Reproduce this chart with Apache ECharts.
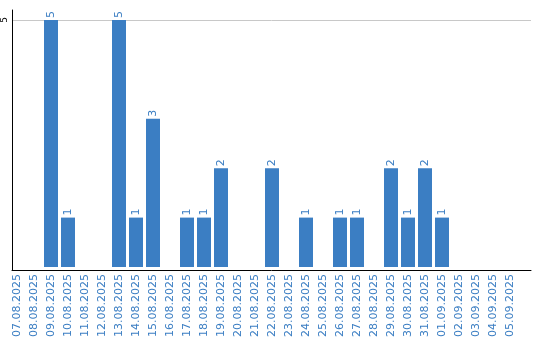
<!DOCTYPE html>
<html>
<head>
<meta charset="utf-8">
<script src="https://cdn.jsdelivr.net/npm/echarts@6/dist/echarts.min.js"></script>
<style>html,body{margin:0;padding:0;background:#fff}#c{width:540px;height:340px}</style>
</head>
<body>
<div id="c"></div>
<script>
const categories = ['07.08.2025','08.08.2025','09.08.2025','10.08.2025','11.08.2025','12.08.2025','13.08.2025','14.08.2025','15.08.2025','16.08.2025','17.08.2025','18.08.2025','19.08.2025','20.08.2025','21.08.2025','22.08.2025','23.08.2025','24.08.2025','25.08.2025','26.08.2025','27.08.2025','28.08.2025','29.08.2025','30.08.2025','31.08.2025','01.09.2025','02.09.2025','03.09.2025','04.09.2025','05.09.2025'];
const values = [0,0,5,1,0,0,5,1,3,0,1,1,2,0,0,2,0,1,0,1,1,0,2,1,2,1,0,0,0,0];
const yTickLabels = ['5'];

const blue = '#3b7ec3';
const chart = echarts.init(document.getElementById('c'), null, {renderer: 'canvas'});
chart.setOption({
  animation: false,
  backgroundColor: '#fff',
  grid: [
    {left: 10, right: 9, top: 10, bottom: 70, containLabel: false},
    {left: 8.5, width: 510, top: 10, bottom: 70, containLabel: false}
  ],
  xAxis: [
    {gridIndex: 0, type: 'value', min: 0, max: 1,
     axisLine: {show: true, lineStyle: {color: '#000', width: 1}},
     axisTick: {show: false}, axisLabel: {show: false}, splitLine: {show: false}},
    {gridIndex: 1, type: 'category', data: categories, boundaryGap: true,
     axisLine: {show: false}, axisTick: {show: false},
     axisLabel: {rotate: 90, interval: 0, fontSize: 11, fontFamily: 'DejaVu Sans', color: blue, margin: 7}}
  ],
  yAxis: [
    {gridIndex: 0, type: 'value', min: 0, max: 5.2, interval: 5,
     axisLine: {show: true, lineStyle: {color: '#000', width: 1}},
     axisTick: {show: false},
     splitLine: {show: true, showMaxLine: false, showMinLine: false, lineStyle: {color: '#c8c8c8', width: 1}},
     axisLabel: {rotate: 90, fontSize: 9, fontFamily: 'DejaVu Sans', color: '#000', margin: 3,
       formatter: v => (yTickLabels.indexOf(String(v)) >= 0 ? String(v) : '')}},
    {gridIndex: 1, type: 'value', min: 0, max: 5.2, show: false, splitLine: {show: false}}
  ],
  series: [{
    type: 'bar', xAxisIndex: 1, yAxisIndex: 1, data: values, barWidth: 14,
    itemStyle: {color: blue},
    label: {show: true, position: 'top', rotate: 90, align: 'left', verticalAlign: 'middle', distance: 2,
      fontSize: 11, fontFamily: 'DejaVu Sans', color: blue,
      formatter: p => (p.value ? String(p.value) : '')}
  }]
});
</script>
</body>
</html>
